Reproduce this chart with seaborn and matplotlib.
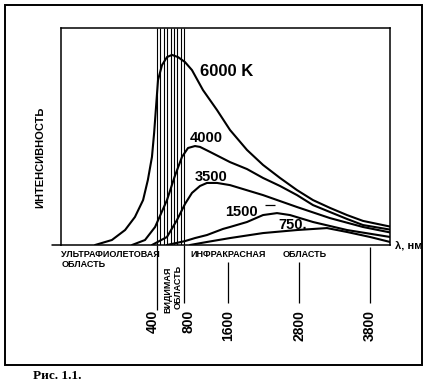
import numpy as np
import pandas as pd
import matplotlib
matplotlib.use('Agg')
import matplotlib.pyplot as plt
from matplotlib.patches import Rectangle
from matplotlib.lines import Line2D
import seaborn as sns

# Planck curves: wavelength (nm) vs intensity (arb. units)
wl_6000 = [142, 212, 267, 308, 342, 362, 379, 388, 396, 415, 474, 548, 622, 711, 818, 945,
           1145, 1400, 1634, 1921, 2192, 2479, 2766, 2997, 3236, 3476, 3701, 4080]
i_6000 = [0, 2.3, 6.9, 12.9, 20.7, 30.0, 40.6, 51.6, 63.6, 76.0, 82.9, 86.6, 87.6, 86.6, 84.3, 80.6,
          71.4, 62.2, 53.0, 43.8, 36.9, 30.9, 25.3, 20.7, 17.1, 13.8, 11.1, 8.5]

wl_4000 = [296, 350, 392, 548, 659, 770, 873, 1000, 1091, 1273, 1634, 1921, 2192, 2479, 2766,
           2997, 3236, 3476, 3701, 4080]
i_4000 = [0, 2.3, 8.3, 20.7, 31.3, 40.6, 44.7, 45.6, 45.2, 42.9, 38.2, 35.0, 30.9, 27.2, 23.0,
          18.4, 15.2, 12.0, 9.2, 7.1]

wl_3500 = [379, 548, 696, 818, 945, 1091, 1218, 1400, 1634, 2192, 2766, 3236, 3701, 4080]
i_3500 = [0, 3.7, 11.5, 18.9, 24.0, 27.2, 28.6, 28.6, 27.6, 23.0, 17.5, 12.4, 8.3, 5.8]

wl_1500 = [548, 818, 1000, 1218, 1509, 1634, 1921, 2192, 2428, 2648, 2997, 3476, 4080]
i_1500 = [0, 1.8, 3.2, 4.6, 7.4, 8.3, 10.6, 13.8, 14.7, 13.8, 10.6, 6.9, 3.7]

wl_750 = [909, 1218, 1634, 2192, 2766, 3194, 3476, 3800, 4080]
i_750 = [0, 1.4, 3.2, 5.5, 6.9, 7.8, 6.0, 3.7, 1.4]

curve_labels = ['6000 K', '4000', '3500', '1500', '750.']
label_pos = [(1091, 80.0), (909, 49.5), (1000, 31.3), (1545, 15.2), (2445, 9.4)]

tick_nm = [400, 800, 1600, 2800, 3800]
tick_labels = ['400', '800', '1600', '2800', '3800']
visible_nm = [400, 450, 500, 550, 600, 650, 700, 750, 800]

# the book's wavelength axis is not linear -> piecewise mapping nm -> axis position
scale_nm = [0, 400, 800, 1600, 2800, 3800, 4080]
scale_pos = [0, 96, 123, 167, 238, 309, 329]

def fwd(x):
    return np.interp(x, scale_nm, scale_pos)

def inv(p):
    return np.interp(p, scale_pos, scale_nm)

frames = []
for name, wl, it in zip(curve_labels,
                        [wl_6000, wl_4000, wl_3500, wl_1500, wl_750],
                        [i_6000, i_4000, i_3500, i_1500, i_750]):
    frames.append(pd.DataFrame({'wl': wl, 'I': it, 'T': name}))
df = pd.concat(frames, ignore_index=True)

sns.set_style('white')
plt.rcParams['font.family'] = ['Liberation Sans', 'DejaVu Sans']
plt.rcParams['text.color'] = 'black'

W, H = 430, 388
fig = plt.figure(figsize=(W / 100, H / 100), dpi=100)
ax = fig.add_axes([61 / W, (H - 245) / H, 329 / W, 217 / H])
ax.set_xscale('function', functions=(fwd, inv))

sns.lineplot(data=df, x='wl', y='I', hue='T', palette=['black'] * 5,
             sort=False, estimator=None, lw=1.5, legend=False, ax=ax,
             solid_joinstyle='round')

ax.set_xlim(0, 4080)
ax.set_ylim(0, 100)
ax.set_xticks([])
ax.set_yticks([])
ax.set_xlabel('')
ax.set_ylabel('')
for s in ax.spines.values():
    s.set_color('black')
    s.set_linewidth(1.1)

# visible band hatching
ax.vlines(visible_nm, 0, 100, color='black', lw=0.8)

# lines below the axis
ax.vlines([400], -30, 0, color='black', lw=0.9, clip_on=False)
ax.vlines([800], -26.7, 0, color='black', lw=0.9, clip_on=False)
ax.vlines([1600, 2800], -26.7, -8, color='black', lw=0.9, clip_on=False)
ax.vlines([3800], -26.7, -0.9, color='black', lw=0.9, clip_on=False)
ax.add_line(Line2D([-0.027, 0], [0, 0], transform=ax.transAxes, color='black',
                   lw=1.1, clip_on=False))

# curve labels
for txt, (x, y) in zip(curve_labels, label_pos):
    ax.text(x, y, txt, ha='left', va='center', fontweight='bold',
            fontsize=12 if txt.endswith('K') else 10.5)
ax.hlines(18.4, 2225, 2394, color='black', lw=0.9)

# tick labels
tick_x = [383, 873, 1600, 2800, 3800]
for x, t in zip(tick_x, tick_labels):
    ax.text(x, -30, t, rotation=90, ha='center', va='top', fontsize=10,
            fontweight='bold', clip_on=False)

# region labels
kw = dict(fontsize=6.5, fontweight='bold', clip_on=False)
ax.text(0, -4.6, 'УЛЬТРАФИОЛЕТОВАЯ', ha='left', va='center', **kw)
ax.text(4, -9.2, 'ОБЛАСТЬ', ha='left', va='center', **kw)
ax.text(909, -4.6, 'ИНФРАКРАСНАЯ', ha='left', va='center', **kw)
ax.text(2530, -4.6, 'ОБЛАСТЬ', ha='left', va='center', **kw)
ax.text(563, -20.7, 'ВИДИМАЯ', rotation=90, ha='center', va='center', **kw)
ax.text(711, -19.4, 'ОБЛАСТЬ', rotation=90, ha='center', va='center', **kw)

fig.text(40 / W, 1 - 157 / H, 'ИНТЕНСИВНОСТЬ', rotation=90, ha='center',
         va='center', fontsize=8, fontweight='bold')
fig.text(395 / W, 1 - 247 / H, 'λ, нм', ha='left', va='center', fontsize=8,
         fontweight='bold')
fig.text(33 / W, 1 - 376 / H, 'Рис. 1.1.', ha='left', va='center', fontsize=9.5,
         fontweight='bold', family=['Liberation Serif', 'DejaVu Serif'])

fig.add_artist(Rectangle((5 / W, (H - 365) / H), 417 / W, 360 / H,
                         transform=fig.transFigure, fill=False,
                         edgecolor='black', lw=1.4))

fig.savefig('out.png', dpi=100)
